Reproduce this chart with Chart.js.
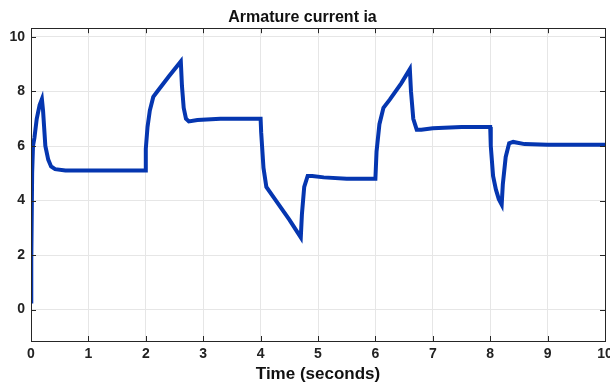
<!DOCTYPE html>
<html>
<head>
<meta charset="utf-8">
<script src="https://cdn.jsdelivr.net/npm/chart.js@4"></script>
<style>
  html, body { margin: 0; padding: 0; background: #fff; }
  #wrap { width: 610px; height: 385px; }
</style>
</head>
<body>
<div id="wrap"><canvas id="chart_1"></canvas></div>
<script>
// Armature current data
const timeSec = [0, 0.005, 0.02, 0.035, 0.06, 0.1, 0.15, 0.19, 0.21, 0.25, 0.3, 0.35, 0.42, 0.6, 1.0, 1.5, 1.99,
    2.0, 2.03, 2.07, 2.13, 2.2, 2.4, 2.61, 2.63, 2.66, 2.7, 2.75, 2.9, 3.3, 4.0,
    4.01, 4.05, 4.1, 4.2, 4.5, 4.7, 4.72, 4.76, 4.82, 4.9, 5.1, 5.5, 6.0,
    6.02, 6.07, 6.14, 6.25, 6.45, 6.6, 6.62, 6.66, 6.72, 6.8, 7.0, 7.5, 8.0,
    8.01, 8.05, 8.1, 8.15, 8.2, 8.22, 8.27, 8.33, 8.4, 8.6, 9.0, 10.0];
const currentA = [0.3, 1.8, 5.0, 6.0, 6.3, 7.0, 7.5, 7.72, 7.3, 6.0, 5.5, 5.25, 5.15, 5.1, 5.1, 5.1, 5.1,
    5.9, 6.7, 7.3, 7.8, 8.0, 8.55, 9.1, 8.2, 7.4, 7.0, 6.9, 6.95, 7.0, 7.0,
    6.5, 5.2, 4.5, 4.2, 3.3, 2.65, 3.5, 4.5, 4.9, 4.9, 4.85, 4.8, 4.8,
    5.8, 6.8, 7.4, 7.7, 8.3, 8.82, 8.0, 7.0, 6.6, 6.6, 6.65, 6.7, 6.7,
    6.0, 4.9, 4.4, 4.05, 3.85, 4.6, 5.6, 6.1, 6.15, 6.07, 6.05, 6.05];
const xTicks = [0, 1, 2, 3, 4, 5, 6, 7, 8, 9, 10];
const yTicks = [0, 2, 4, 6, 8, 10];

const points = timeSec.map((t, i) => ({ x: t, y: currentA[i] }));

// MATLAB style: box around the axes and ticks pointing inward
const boxTicks = {
    id: 'boxTicks',
    afterDraw(chart) {
        const { ctx, chartArea: a, scales: { x, y } } = chart;
        ctx.save();
        ctx.strokeStyle = '#262626';
        ctx.lineWidth = 1;
        ctx.beginPath();
        xTicks.forEach(v => {
            const px = Math.round(x.getPixelForValue(v)) + 0.5;
            ctx.moveTo(px, a.bottom); ctx.lineTo(px, a.bottom - 5);
            ctx.moveTo(px, a.top); ctx.lineTo(px, a.top + 5);
        });
        yTicks.forEach(v => {
            const py = Math.round(y.getPixelForValue(v)) + 0.5;
            ctx.moveTo(a.left, py); ctx.lineTo(a.left + 5, py);
            ctx.moveTo(a.right, py); ctx.lineTo(a.right - 5, py);
        });
        ctx.stroke();
        ctx.strokeRect(Math.round(a.left) + 0.5, Math.round(a.top) + 0.5,
            Math.round(a.right - a.left), Math.round(a.bottom - a.top));
        ctx.restore();
    }
};

const ctx_1 = document.getElementById('chart_1').getContext('2d');
const chart_1 = new Chart(ctx_1, {
    type: 'line',
    data: {
        datasets: [{
            data: points,
            borderColor: '#0536b0',
            borderWidth: 4,
            pointRadius: 0,
            tension: 0,
            fill: false
        }]
    },
    options: {
        responsive: true,
        maintainAspectRatio: false,
        animation: false,
        layout: { padding: { left: 0, right: 5, top: 0, bottom: 0 } },
        plugins: {
            legend: { display: false },
            tooltip: { enabled: false },
            title: {
                display: true,
                text: 'Armature current ia',
                color: '#111',
                font: { family: 'Liberation Sans', size: 16, weight: 'bold' },
                padding: { top: 8, bottom: 1 }
            }
        },
        scales: {
            x: {
                type: 'linear',
                min: 0,
                max: 10,
                afterBuildTicks: s => { s.ticks = xTicks.map(v => ({ value: v })); },
                afterFit: s => { s.height = 44; s.paddingLeft = 0; s.paddingRight = 0; },
                grid: { color: '#e6e6e6', drawTicks: false },
                border: { display: false },
                ticks: {
                    padding: 5,
                    color: '#222',
                    font: { family: 'Liberation Sans', size: 14, weight: 'bold' }
                },
                title: {
                    display: true,
                    text: 'Time (seconds)',
                    color: '#111',
                    font: { family: 'Liberation Sans', size: 17, weight: 'bold' },
                    padding: { top: 0, bottom: 0 }
                }
            },
            y: {
                type: 'linear',
                min: -1.15,
                max: 10.32,
                afterBuildTicks: s => { s.ticks = yTicks.map(v => ({ value: v })); },
                afterFit: s => { s.width = 31; s.paddingTop = 0; s.paddingBottom = 0; },
                grid: { color: '#e6e6e6', drawTicks: false },
                border: { display: false },
                ticks: {
                    padding: 6,
                    color: '#222',
                    font: { family: 'Liberation Sans', size: 14, weight: 'bold' }
                }
            }
        }
    },
    plugins: [boxTicks]
});
</script>
</body>
</html>
